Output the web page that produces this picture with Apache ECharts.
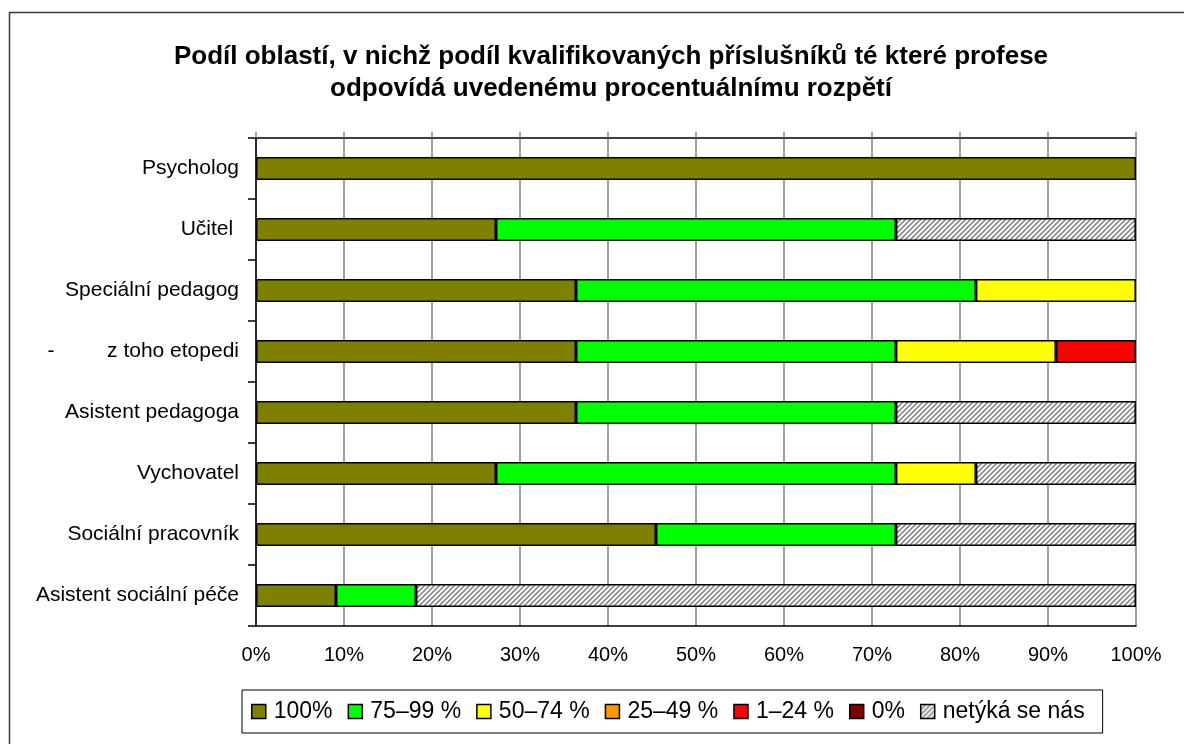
<!DOCTYPE html>
<html>
<head>
<meta charset="utf-8">
<script src="https://cdn.jsdelivr.net/npm/echarts@6/dist/echarts.min.js"></script>
<style>html,body{margin:0;padding:0;background:#fff;}#c{width:1184px;height:744px;}</style>
</head>
<body>
<div id="c"></div>
<script>
const titleText = 'Podíl oblastí, v nichž podíl kvalifikovaných příslušníků té které profese\nodpovídá uvedenému procentuálnímu rozpětí';
const categories = ['Psycholog', 'Učitel ', 'Speciální pedagog', '-         z toho etopedi', 'Asistent pedagoga', 'Vychovatel', 'Sociální pracovník', 'Asistent sociální péče'];
const seriesNames = ['100%', '75–99 %', '50–74 %', '25–49 %', '1–24 %', '0%', 'netýká se nás'];
const v100 = [100, 27.27, 36.36, 36.36, 36.36, 27.27, 45.45, 9.09];
const v75 = [0, 45.45, 45.45, 36.36, 36.36, 45.45, 27.27, 9.09];
const v50 = [0, 0, 18.18, 18.18, 0, 9.09, 0, 0];
const v25 = [0, 0, 0, 0, 0, 0, 0, 0];
const v1 = [0, 0, 0, 9.09, 0, 0, 0, 0];
const v0 = [0, 0, 0, 0, 0, 0, 0, 0];
const vNa = [0, 27.27, 0, 0, 27.27, 18.18, 27.27, 81.82];
const xTicks = [0, 10, 20, 30, 40, 50, 60, 70, 80, 90, 100];

// hatch pattern
const tile = document.createElement('canvas');
tile.width = 5; tile.height = 5;
const g = tile.getContext('2d');
g.fillStyle = '#ffffff'; g.fillRect(0, 0, 5, 5);
g.strokeStyle = '#8c8c8c'; g.lineWidth = 1.7;
g.beginPath();
g.moveTo(-1, 6); g.lineTo(6, -1);
g.moveTo(-6, 6); g.lineTo(1, -1);
g.moveTo(4, 6); g.lineTo(11, -1);
g.stroke();
const hatch = { image: tile, repeat: 'repeat' };

const colors = ['#808000', '#00ff00', '#ffff00', '#ff9900', '#ff0000', '#800000', hatch];
const values = [v100, v75, v50, v25, v1, v0, vNa];
const FONT = "'Liberation Sans', Arial, sans-serif";

const chart = echarts.init(document.getElementById('c'), null, { renderer: 'canvas' });
chart.setOption({
  animation: false,
  backgroundColor: '#ffffff',
  textStyle: { fontFamily: FONT, color: '#000' },
  graphic: [{
    type: 'rect', silent: true, z: -10,
    shape: { x: 9.5, y: 12.5, width: 1400, height: 1000 },
    style: { fill: 'none', stroke: '#3a3a3a', lineWidth: 1.5 }
  }, {
    type: 'text', silent: true,
    x: 611, y: 41,
    style: {
      text: titleText,
      align: 'center', verticalAlign: 'top',
      fontFamily: FONT, fontSize: 26, fontWeight: 'bold',
      lineHeight: 32, fill: '#000'
    }
  }],
  legend: {
    data: seriesNames,
    left: 242, top: 690,
    orient: 'horizontal',
    icon: 'rect',
    itemWidth: 14, itemHeight: 14,
    itemGap: 15,
    padding: [10, 18, 10, 9],
    borderColor: '#000', borderWidth: 1,
    textStyle: { fontFamily: FONT, fontSize: 23, color: '#000', lineHeight: 23, padding: [0, 0, 0, 3] },
    itemStyle: { borderColor: '#000', borderWidth: 1.5 }
  },
  grid: { left: 256, right: 48, top: 138, bottom: 118, containLabel: false },
  xAxis: [{
    type: 'value', position: 'bottom', min: 0, max: 100, interval: 10,
    axisLine: { show: true, lineStyle: { color: '#000', width: 1.5 } },
    axisTick: { show: false },
    axisLabel: { fontFamily: FONT, fontSize: 20, color: '#000', margin: 19, formatter: v => v + '%' },
    splitLine: { show: true, lineStyle: { color: '#808080', width: 1.5 } }
  }, {
    type: 'value', position: 'top', min: 0, max: 100, interval: 10,
    axisLine: { show: true, onZero: false, lineStyle: { color: '#000', width: 1.5 } },
    axisTick: { show: true, length: 6, lineStyle: { color: '#808080', width: 1.5 } },
    axisLabel: { show: false },
    splitLine: { show: false }
  }],
  yAxis: {
    type: 'category', data: categories, inverse: true,
    axisLine: { show: true, lineStyle: { color: '#000', width: 1.5 } },
    axisTick: { show: true, length: 8, lineStyle: { color: '#000', width: 1.5 } },
    axisLabel: { fontFamily: FONT, fontSize: 21, color: '#000', margin: 17 },
    splitLine: { show: false }
  },
  series: seriesNames.map((name, i) => ({
    name: name,
    type: 'bar',
    stack: 'total',
    xAxisIndex: 0,
    barWidth: 23,
    data: values[i].map(v => v === 0 ? '-' : v),
    itemStyle: { color: colors[i], borderColor: '#000', borderWidth: 1.5 }
  }))
});
</script>
</body>
</html>
